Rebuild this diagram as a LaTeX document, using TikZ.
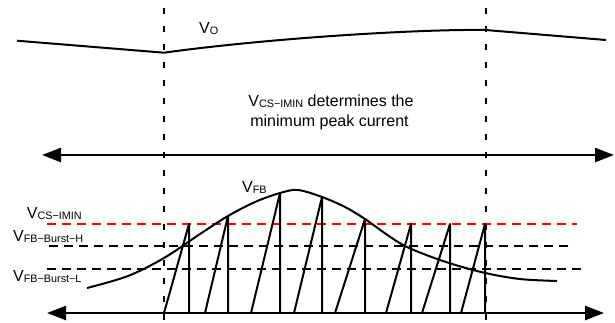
\documentclass[tikz,border=0pt]{standalone}
\usepackage{fontspec}
\setmainfont{Liberation Sans}
\usetikzlibrary{arrows.meta}
\newcommand\sbs[1]{\raisebox{-1.2pt}{\fontsize{10.8}{10.8}\selectfont #1}}
\tikzset{
  wave/.style={line width=2pt, line join=round},
  vdash/.style={line width=2pt, dash pattern=on 6pt off 12pt},
  hdash/.style={line width=2pt, dash pattern=on 9pt off 6pt},
  axis/.style={line width=2.4pt, {Triangle[length=19pt,width=14pt]}-{Triangle[length=19pt,width=14pt]}},
  lbl/.style={inner sep=0pt, anchor=base west, font=\fontsize{16}{20}\selectfont},
}
\begin{document}
\begin{tikzpicture}[x=1pt,y=-1pt]
\useasboundingbox (0,0) rectangle (615,322);
% vertical dashed markers
\draw[vdash] (164,8) -- (164,322);
\draw[vdash] (486,8) -- (486,322);
% threshold levels
\draw[hdash, red] (47,224) -- (577,224);
\draw[hdash] (49,246) -- (569,246);
\draw[hdash] (47,269) -- (585,269);
% V_O waveform
\draw[wave] (17,40.7) -- (164,52.7) .. controls (270,38) and (420,29) .. (485.7,30) -- (606,40);
% V_FB waveform
\draw[wave] plot[smooth, tension=0.55] coordinates {
  (87,288) (128,276) (164,258) (200,234) (228,216) (255,202) (280,193) (298,190)
  (322,197) (345,207) (365,219) (386,234) (407,247) (440,260) (473,270) (500,276)
  (525,279.5) (557,281)};
% sawtooth
\foreach \s/\px/\py in {164/189/224, 205/228/216, 251/280/193, 294/322/197,
                        335/365/219, 386/411/224, 422/450/224, 461/485/224}{
  \draw[wave] (\s,313) -- (\px,\py) -- (\px,313);
}
% time axes
\draw[axis] (42,155) -- (614,155);
\draw[axis] (47,313) -- (604,313);
% labels
\node[lbl] (vo) at (199,33.3) {V\sbs{O}};
\node[lbl] (vfb) at (242,192) {V\sbs{FB}};
\node[inner sep=0pt, anchor=base, font=\fontsize{16}{20}\selectfont] (t1) at (331,106.7) {V\sbs{CS−IMIN} determines the};
\node[inner sep=0pt, anchor=base, font=\fontsize{16}{20}\selectfont] (t2) at (329.5,126.5) {minimum peak current};
\node[lbl] (lcs) at (26.7,218) {V\sbs{CS−IMIN}};
\node[lbl] (lbh) at (13,241) {V\sbs{FB−Burst−H}};
\node[lbl] (lbl) at (13,281) {V\sbs{FB−Burst−L}};
\end{tikzpicture}
\end{document}
